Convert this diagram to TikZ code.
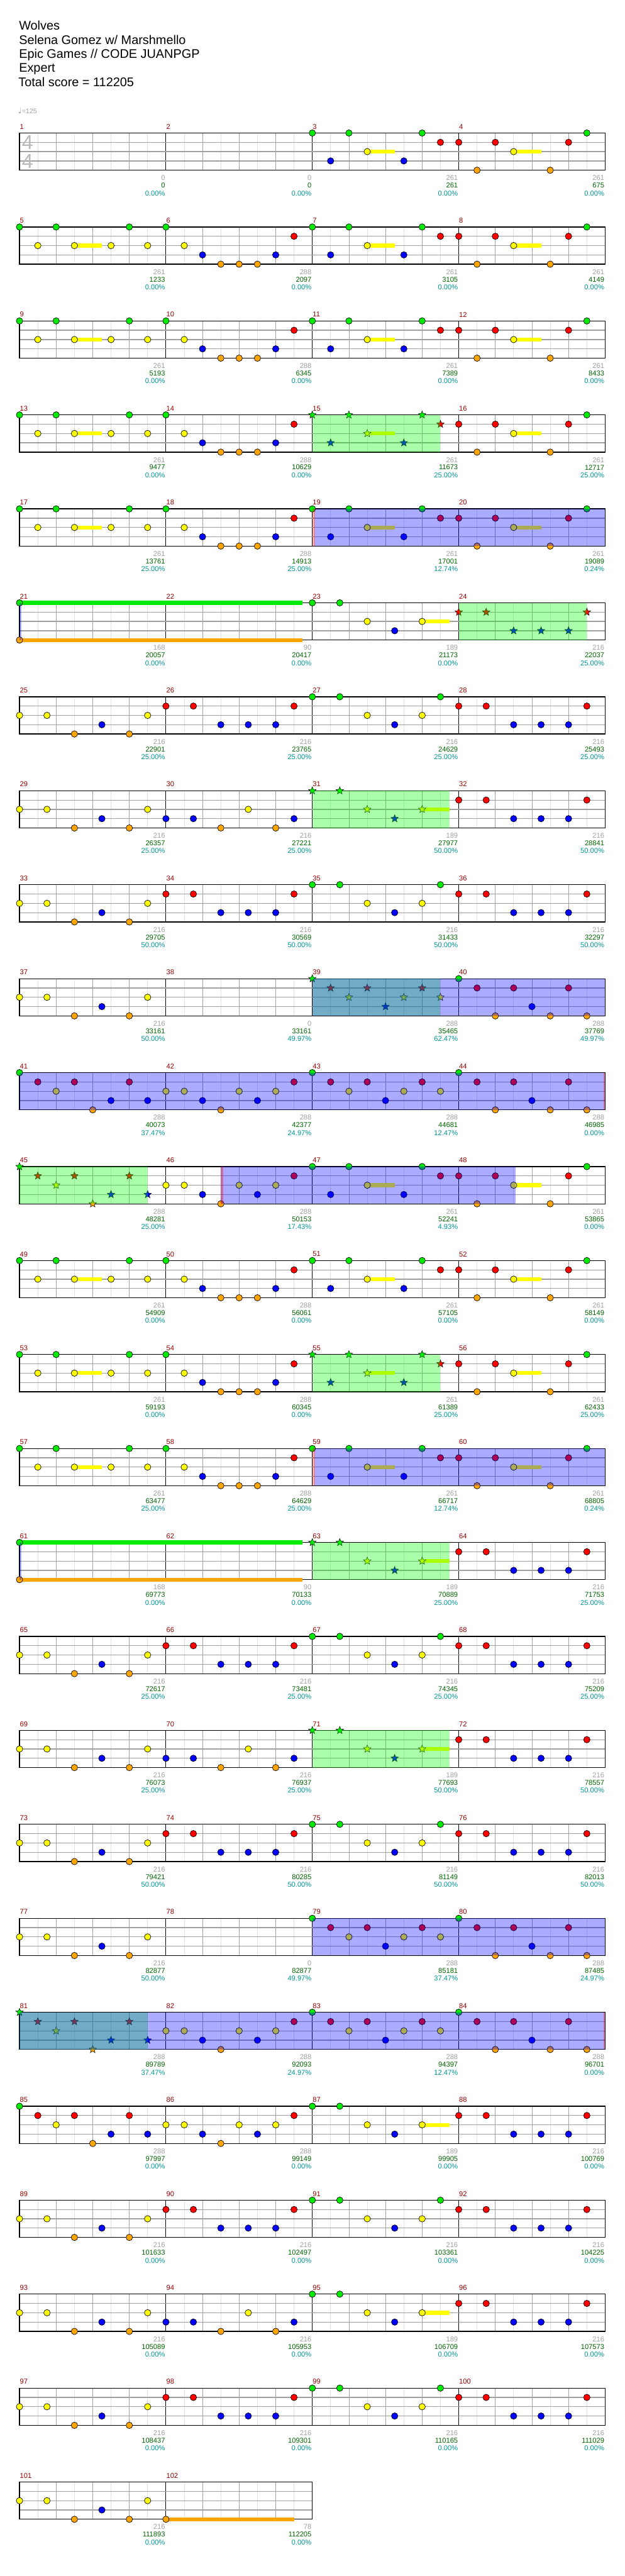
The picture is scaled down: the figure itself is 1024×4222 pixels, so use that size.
\documentclass[tikz,border=0pt]{standalone}
\usepackage{fontspec}
\setmainfont{Liberation Sans}
\newfontfamily\symfont{DejaVu Sans}
\usetikzlibrary{shapes.geometric}

\definecolor{lane0}{RGB}{0,235,0}
\definecolor{lane1}{RGB}{255,0,0}
\definecolor{lane2}{RGB}{255,255,0}
\definecolor{lane3}{RGB}{0,0,255}
\definecolor{lane4}{RGB}{255,165,0}
\definecolor{barred}{RGB}{150,0,0}
\definecolor{ptgray}{RGB}{160,160,160}
\definecolor{scgreen}{RGB}{0,100,0}
\definecolor{pccyan}{RGB}{0,150,150}
\definecolor{tsgray}{RGB}{185,185,185}

% note patterns: eighth/lane/sustain
\def\pA{0/0/0,1/3/0,2/0/0,3/2/1.5,5/3/0,6/0/0,7/1/0}
\def\pB{0/1/0,1/4/0,2/1/0,3/2/1.5,5/4/0,6/1/0,7/0/0}
\def\pC{0/0/0,1/2/0,2/0/0,3/2/1.5,5/2/0,6/0/0,7/2/0}
\def\pD{0/0/0,1/2/0,2/3/0,3/4/0,4/4/0,5/4/0,6/3/0,7/1/0}
\def\pE{0/2/0,1.5/2/0,3/4/0,4.5/3/0,6/4/0,7/2/0}
\def\pF{0/1/0,1.5/1/0,3/3/0,4.5/3/0,6/3/0,7/1/0}
\def\pG{0/0/0,1.5/0/0,3/2/0,4.5/3/0,6/2/0,7/0/0}
\def\pI{0/3/0,1.5/3/0,3/4/0,4.5/2/0,6/4/0,7/3/0}
\def\pJ{0/0/0,1.5/0/0,3/2/0,4.5/3/0,6/2/1.5}
\def\pK{0/0/0,1/1/0,2/2/0,3/1/0,4/3/0,5/2/0,6/1/0,7/2/0}
\def\pL{0/0/0,1/1/0,2/4/0,3/1/0,4/3/0,5/4/0,6/1/0,7/4/0}
\def\pM{0/0/0,1/1/0,2/2/0,3/1/0,4/4/0,5/3/0,6/1/0,7/3/0}
\def\pN{0/2/0,1/2/0,2/3/0,3/4/0,4/2/0,5/3/0,6/2/0,7/1/0}

\newcommand{\mxy}[3]{\pgfmathsetmacro\xx{32+mod(#1-1,4)*240+#2*30}%
  \pgfmathsetmacro\yy{218+154*floor((#1-1)/4)+#3*15.25}}
\newcommand{\nt}[5]{\mxy{#1}{#2}{#3}%
  \ifdim #4pt>0pt \fill[lane#3] (\xx,\yy-3.2) rectangle ++(#4*30,6.4);\fi
  \node[#5,fill=lane#3] at (\xx,\yy) {};}
\newcommand{\meas}[3]{\foreach \ev/\lv/\sv in {#2} {\nt{#1}{\ev}{\lv}{\sv}{#3}}}
\newcommand{\zone}[5]{\mxy{#2}{#3}{0}\let\zxa\xx\let\zya\yy\mxy{#4}{#5}{4}%
  \fill[#1] (\zxa,\zya) rectangle (\xx,\yy);}

\begin{document}
\begin{tikzpicture}[x=1pt,y=-1pt,
  lbl/.style={inner sep=0pt,font=\fontsize{11.5}{13}\selectfont},
  barno/.style={lbl,anchor=west,text=barred},
  ptlbl/.style={lbl,anchor=east,text=ptgray},
  sclbl/.style={lbl,anchor=east,text=scgreen},
  pclbl/.style={lbl,anchor=east,text=pccyan},
  titletext/.style={anchor=base west,inner sep=0pt,font=\fontsize{20.5}{24}\selectfont},
  tsig/.style={inner sep=0pt,text=tsgray,font=\fontsize{33}{36}\selectfont},
  eighthline/.style={draw={rgb,255:red,225;green,225;blue,225},line width=0.8pt},
  beatline/.style={draw={rgb,255:red,160;green,160;blue,160},line width=0.8pt},
  barline/.style={draw=black,line width=0.8pt},
  laneline/.style={draw={rgb,255:red,160;green,160;blue,160},line width=1.3pt},
  staffline/.style={draw=black,line width=1.3pt},
  gem/.style={circle,draw=black,line width=0.7pt,minimum size=10.6pt,inner sep=0pt},
  stargem/.style={star,star points=5,star point ratio=2.3,minimum size=13pt,inner sep=0pt,draw=black,line width=0.5pt},
  spzone/.style={fill=green,fill opacity=0.33},
  odzone/.style={fill=blue,fill opacity=0.33},
  actmark/.style={fill=red,fill opacity=0.35}]
\fill[white] (0,0) rectangle (1024,4222);
\useasboundingbox (0,0) rectangle (1024,4222);

\node[titletext] (song) at (31,49.3) {Wolves};
\node[titletext] (artist) at (31,72.3) {Selena Gomez w/ Marshmello};
\node[titletext] (charter) at (31,95.3) {Epic Games // CODE JUANPGP};
\node[titletext] (level) at (31,118.3) {Expert};
\node[titletext] (total) at (30,141.3) {Total score = 112205};
\node[anchor=base west,inner sep=0pt,text=ptgray,font=\fontsize{11}{13}\selectfont] (tempo) at (29.5,186.5) {{\symfont\fontsize{13}{13}\selectfont ♩}=125};

% staves
\foreach \r in {0,...,25}{
  \pgfmathsetmacro\rowy{218+154*\r}
  \pgfmathtruncatemacro\nm{\r==25 ? 2 : 4}
  \pgfmathtruncatemacro\nl{8*\nm-1}
  \foreach \i in {1,...,\nl}{
    \pgfmathtruncatemacro\gk{mod(\i,8)==0 ? 2 : (mod(\i,2)==0 ? 1 : 0)}
    \ifcase\gk \draw[eighthline] (32+\i*30,\rowy) -- ++(0,61);
    \or \draw[beatline] (32+\i*30,\rowy) -- ++(0,61);
    \or \draw[barline] (32+\i*30,\rowy) -- ++(0,61); \fi
  }
  \foreach \j in {1,2,3} \draw[laneline] (32,\rowy+\j*15.25) -- ++(\nm*240,0);
  \draw[staffline] (32,\rowy) rectangle ++(\nm*240,61);
}
\node[tsig] (tsTop) at (45,233.7) {4};
\node[tsig] (tsBot) at (45,264.5) {4};

\foreach \m in {1,...,102}{
  \mxy{\m}{0}{0}
  \node[barno] (bar\m) at (\xx+0.5,\yy-10.5) {\m};
}

% notes
\foreach \m/\p/\k in {3/A/gem,4/B/gem,5/C/gem,6/D/gem,7/A/gem,8/B/gem,9/C/gem,10/D/gem,
  11/A/gem,12/B/gem,13/C/gem,14/D/gem,15/A/stargem,16/B/gem,17/C/gem,18/D/gem,19/A/gem,20/B/gem,
  23/J/gem,24/F/stargem,25/E/gem,26/F/gem,27/G/gem,28/F/gem,29/E/gem,30/I/gem,31/J/stargem,32/F/gem,
  33/E/gem,34/F/gem,35/G/gem,36/F/gem,37/E/gem,39/K/stargem,40/L/gem,41/M/gem,42/N/gem,43/K/gem,44/L/gem,
  45/M/stargem,46/N/gem,47/A/gem,48/B/gem,49/C/gem,50/D/gem,51/A/gem,52/B/gem,53/C/gem,54/D/gem,
  55/A/stargem,56/B/gem,57/C/gem,58/D/gem,59/A/gem,60/B/gem,63/J/stargem,64/F/gem,65/E/gem,66/F/gem,
  67/G/gem,68/F/gem,69/E/gem,70/I/gem,71/J/stargem,72/F/gem,73/E/gem,74/F/gem,75/G/gem,76/F/gem,
  77/E/gem,79/K/gem,80/L/gem,81/M/stargem,82/N/gem,83/K/gem,84/L/gem,85/M/gem,86/N/gem,87/J/gem,88/F/gem,
  89/E/gem,90/F/gem,91/G/gem,92/F/gem,93/E/gem,94/I/gem,95/J/gem,96/F/gem,97/E/gem,98/F/gem,
  99/G/gem,100/F/gem,101/E/gem}{
  \edef\doit{\noexpand\meas{\m}{\csname p\p\endcsname}{\k}}\doit
}
\nt{21}{0}{0}{15.45}{gem}
\nt{21}{0}{4}{15.45}{gem}
\nt{61}{0}{0}{15.45}{gem}
\nt{61}{0}{4}{15.45}{gem}
\nt{102}{0}{4}{7}{gem}

% star power and overdrive
\foreach \m/\e in {15/7,24/7,31/7.5,39/7,45/7,55/7,63/7.5,71/7.5,81/7} \zone{spzone}{\m}{0}{\m}{\e};
\foreach \a/\b/\c/\d in {19/0.1/20/8,21/0/21/0.1,39/0/40/8,41/0/44/8,46/3/48/3.1,
  59/0.1/60/8,61/0/61/0.1,79/0/80/8,81/0/84/8} \zone{odzone}{\a}{\b}{\c}{\d};
\foreach \a/\b/\c in {19/0/0.13,46/3/3.13,59/0/0.13,44/7.93/8,84/7.93/8} \zone{actmark}{\a}{\b}{\a}{\c};

% measure scores
\foreach \m/\pts/\sco/\pct in {1/0/0/0.00,2/0/0/0.00,3/261/261/0.00,4/261/675/0.00,
  5/261/1233/0.00,6/288/2097/0.00,7/261/3105/0.00,8/261/4149/0.00,
  9/261/5193/0.00,10/288/6345/0.00,11/261/7389/0.00,12/261/8433/0.00,
  13/261/9477/0.00,14/288/10629/0.00,15/261/11673/25.00,16/261/12717/25.00,
  17/261/13761/25.00,18/288/14913/25.00,19/261/17001/12.74,20/261/19089/0.24,
  21/168/20057/0.00,22/90/20417/0.00,23/189/21173/0.00,24/216/22037/25.00,
  25/216/22901/25.00,26/216/23765/25.00,27/216/24629/25.00,28/216/25493/25.00,
  29/216/26357/25.00,30/216/27221/25.00,31/189/27977/50.00,32/216/28841/50.00,
  33/216/29705/50.00,34/216/30569/50.00,35/216/31433/50.00,36/216/32297/50.00,
  37/216/33161/50.00,38/0/33161/49.97,39/288/35465/62.47,40/288/37769/49.97,
  41/288/40073/37.47,42/288/42377/24.97,43/288/44681/12.47,44/288/46985/0.00,
  45/288/48281/25.00,46/288/50153/17.43,47/261/52241/4.93,48/261/53865/0.00,
  49/261/54909/0.00,50/288/56061/0.00,51/261/57105/0.00,52/261/58149/0.00,
  53/261/59193/0.00,54/288/60345/0.00,55/261/61389/25.00,56/261/62433/25.00,
  57/261/63477/25.00,58/288/64629/25.00,59/261/66717/12.74,60/261/68805/0.24,
  61/168/69773/0.00,62/90/70133/0.00,63/189/70889/25.00,64/216/71753/25.00,
  65/216/72617/25.00,66/216/73481/25.00,67/216/74345/25.00,68/216/75209/25.00,
  69/216/76073/25.00,70/216/76937/25.00,71/189/77693/50.00,72/216/78557/50.00,
  73/216/79421/50.00,74/216/80285/50.00,75/216/81149/50.00,76/216/82013/50.00,
  77/216/82877/50.00,78/0/82877/49.97,79/288/85181/37.47,80/288/87485/24.97,
  81/288/89789/37.47,82/288/92093/24.97,83/288/94397/12.47,84/288/96701/0.00,
  85/288/97997/0.00,86/288/99149/0.00,87/189/99905/0.00,88/216/100769/0.00,
  89/216/101633/0.00,90/216/102497/0.00,91/216/103361/0.00,92/216/104225/0.00,
  93/216/105089/0.00,94/216/105953/0.00,95/189/106709/0.00,96/216/107573/0.00,
  97/216/108437/0.00,98/216/109301/0.00,99/216/110165/0.00,100/216/111029/0.00,
  101/216/111893/0.00,102/78/112205/0.00}{
  \mxy{\m}{8}{4}
  \node[ptlbl] (pt\m) at (\xx-1.2,\yy+12.7) {\pts};
  \node[sclbl] (sc\m) at (\xx-1.2,\yy+25) {\sco};
  \node[pclbl] (pc\m) at (\xx-1.2,\yy+37.7) {\pct\%};
}
\end{tikzpicture}
\end{document}
